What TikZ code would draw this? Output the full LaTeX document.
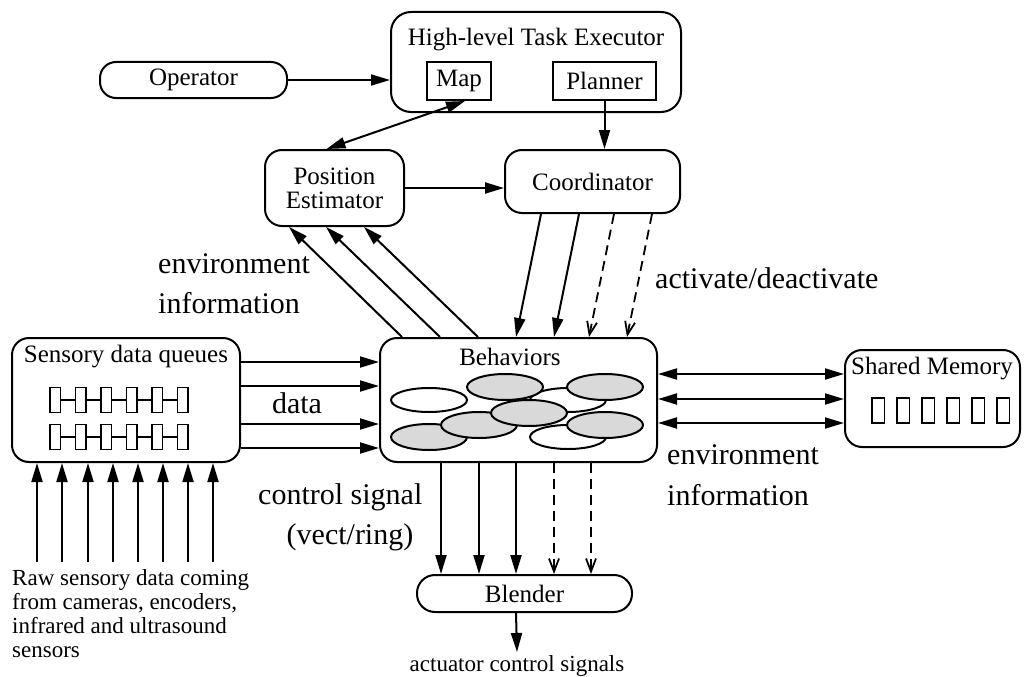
\documentclass[tikz,border=0pt]{standalone}
\usepackage{fontspec}
\setmainfont{Liberation Serif}
\usetikzlibrary{arrows.meta}
\tikzset{
  box/.style={draw, line width=2pt, rounded corners=17pt, inner sep=0pt, align=center, font=\fontsize{25}{27}\selectfont},
  sqbox/.style={draw, line width=2pt, inner sep=0pt, align=center, font=\fontsize{25}{27}\selectfont},
  conn/.style={line width=2pt, -{Triangle[length=19pt,width=11pt]}},
  biconn/.style={line width=2pt, {Triangle[length=19pt,width=11pt]}-{Triangle[length=19pt,width=11pt]}},
  dashconn/.style={line width=1.8pt, dash pattern=on 10pt off 6pt, -{Straight Barb[length=13pt,width=10pt]}},
  biglabel/.style={inner sep=0pt, font=\fontsize{30}{32}\selectfont},
  smalllabel/.style={inner sep=0pt, font=\fontsize{23}{24}\selectfont},
  ell/.style={draw, line width=2pt},
  cell/.style={draw, line width=1.8pt}
}
\begin{document}
\begin{tikzpicture}[x=1pt,y=-1pt]
\useasboundingbox (0,0) rectangle (1028,677);

% boxes
\node[box, rounded corners=16pt, minimum width=187pt, minimum height=36pt] (op) at (193.5,80) {Operator};
\node[box, rounded corners=20pt, minimum width=290pt, minimum height=100pt] (hte) at (536,62) {};
\node[inner sep=0pt, font=\fontsize{25}{27}\selectfont] (htetitle) at (536,40) {High-level Task Executor};
\node[sqbox, minimum width=64pt, minimum height=38pt] (map) at (459,81) {Map};
\node[sqbox, minimum width=103pt, minimum height=38pt] (planner) at (604.5,81) {Planner};
\node[box, minimum width=139pt, minimum height=76pt] (pe) at (334.5,188) {Position\\[-3pt]Estimator};
\node[box, minimum width=175pt, minimum height=63pt] (coord) at (592.5,181.5) {Coordinator};
\node[box, minimum width=277pt, minimum height=124pt] (beh) at (518.5,400) {};
\node[inner sep=0pt, font=\fontsize{25}{27}\selectfont] (behtitle) at (510,357) {Behaviors};
\node[box, minimum width=228pt, minimum height=124pt] (sdq) at (126,400) {};
\node[inner sep=0pt, font=\fontsize{25}{27}\selectfont] (sdqtitle) at (126,357) {Sensory data queues};
\node[box, minimum width=175pt, minimum height=97pt] (shm) at (932.5,398.5) {};
\node[inner sep=0pt, font=\fontsize{25}{27}\selectfont] (shmtitle) at (932,369) {Shared Memory};
\node[box, rounded corners=18pt, minimum width=215pt, minimum height=37pt] (blender) at (524.5,593.5) {Blender};

% ellipses in Behaviors
\draw[ell, fill=white] (429,400) ellipse [x radius=38pt, y radius=12pt];
\draw[ell, fill=white] (568,400) ellipse [x radius=38pt, y radius=12pt];
\draw[ell, fill=black!15] (505,387) ellipse [x radius=38pt, y radius=13pt];
\draw[ell, fill=white] (568,437) ellipse [x radius=38pt, y radius=12pt];
\draw[ell, fill=black!15] (429,437) ellipse [x radius=38pt, y radius=13pt];
\draw[ell, fill=black!15] (479,425) ellipse [x radius=38pt, y radius=13pt];
\draw[ell, fill=black!15] (529,413) ellipse [x radius=38pt, y radius=13pt];
\draw[ell, fill=black!15] (605,387) ellipse [x radius=38pt, y radius=13pt];
\draw[ell, fill=black!15] (605,425) ellipse [x radius=38pt, y radius=13pt];

% queues
\foreach \yy in {400,437} {
  \draw[cell] (60,\yy) -- (177,\yy);
  \foreach \xx in {50,75.5,101,126.5,152,177.5} {
    \draw[cell, fill=white] (\xx,\yy-12.5) rectangle (\xx+10.5,\yy+12.5);
  }
}
% shared memory cells
\foreach \xx in {872,897,922,947,972,997} {
  \draw[cell] (\xx,398) rectangle (\xx+12.5,423);
}

% connectors
\draw[conn] (op.east) -- (op.east -| hte.west);
\draw[biconn] ([xshift=6pt]map.south) -- ([xshift=-8pt]pe.north);
\draw[conn] (planner.south) -- (planner.south |- coord.north);
\draw[conn] (pe.east) -- (pe.east -| coord.west);

\foreach \a/\b in {23/25, 61/62, 99/100} {
  \draw[conn] ([xshift=\a pt]beh.north west) -- ([xshift=\b pt]pe.south west);
}
\foreach \a/\b in {37/137, 75/175} {
  \draw[conn] ([xshift=\a pt]coord.south west) -- ([xshift=\b pt]beh.north west);
}
\foreach \a/\b in {110/210, 148/248} {
  \draw[dashconn] ([xshift=\a pt]coord.south west) -- ([xshift=\b pt]beh.north west);
}
\foreach \d in {25,49,87,111} {
  \draw[conn] ([yshift=-\d pt]sdq.north east) -- ([yshift=-\d pt]beh.north west);
}
\foreach \a/\b in {37/25, 62/50, 86/74} {
  \draw[biconn] ([yshift=-\a pt]beh.north east) -- ([yshift=-\b pt]shm.north west);
}
\foreach \a/\b in {62/25, 100/63, 137/100} {
  \draw[conn] ([xshift=\a pt]beh.south west) -- ([xshift=\b pt]blender.north west);
}
\foreach \a/\b in {175/138, 212/175} {
  \draw[dashconn] ([xshift=\a pt]beh.south west) -- ([xshift=\b pt]blender.north west);
}
\coordinate (out) at (517,652);
\draw[conn] ([xshift=100pt]blender.south west) -- (out);

\foreach \i/\xx in {1/37,2/62,3/88,4/113,5/138,6/163,7/188,8/213} {
  \coordinate (raw\i) at (\xx,562);
  \draw[conn] (raw\i) -- (raw\i |- sdq.south);
}

% labels
\node[biglabel, anchor=west] (envl1) at (158,264) {environment};
\node[biglabel, anchor=west] (envl2) at (158,303) {information};
\node[biglabel, anchor=west] (act) at (655,278) {activate/deactivate};
\node[biglabel] (datal) at (297,403) {data};
\node[biglabel, anchor=west] (envr1) at (667,455) {environment};
\node[biglabel, anchor=west] (envr2) at (667,495) {information};
\node[biglabel, anchor=west] (ctrl1) at (258,497) {control signal};
\node[biglabel] (ctrl2) at (350,537) {(vect/ring)};
\node[smalllabel, anchor=north west, align=left] (raw) at (12,569) {Raw sensory data coming\\from cameras, encoders,\\infrared and ultrasound\\sensors};
\node[smalllabel] (act2) at (517,666) {actuator control signals};
\end{tikzpicture}
\end{document}
